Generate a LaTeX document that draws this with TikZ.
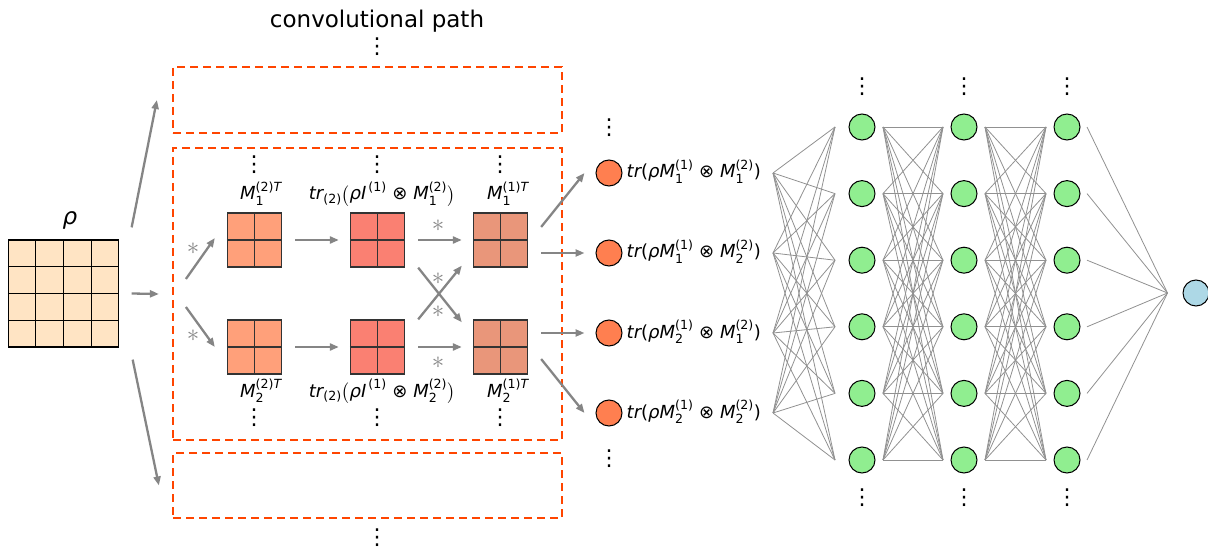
\documentclass[tikz,border=0pt]{standalone}
\usepackage{fontspec}
\usepackage{amsmath}
\setmainfont{DejaVu Sans}
\usetikzlibrary{arrows.meta,calc}
\definecolor{pathred}{HTML}{FF4500}
\definecolor{rhocol}{HTML}{FFE4C4}
\definecolor{sqa}{HTML}{FFA07A}
\definecolor{sqb}{HTML}{FA8072}
\definecolor{sqc}{HTML}{E9967A}
\definecolor{obscol}{HTML}{FF7F50}
\definecolor{hidcol}{HTML}{90EE90}
\definecolor{outcol}{HTML}{ADD8E6}
\definecolor{arrgray}{HTML}{858585}
\newcommand{\vdts}{⋮}
\newcommand{\Mt}[2]{$\textit{M}_{\text{#1}}^{\text{(#2)}\textit{T}}$}
\newcommand{\trp}[1]{$\textit{tr}_{\text{(2)}}\bigl(\textit{ρI}^{\,\text{(1)}}\text{ ⊗ }\textit{M}_{\text{#1}}^{\text{(2)}}\bigr)$}
\newcommand{\trr}[4]{$\textit{tr}\text{(}\textit{ρM}_{\text{#1}}^{\text{(#2)}}\text{ ⊗ }\textit{M}_{\text{#3}}^{\text{(#4)}}\text{)}$}
\begin{document}
\begin{tikzpicture}[x=1pt,y=-1pt,
  arr/.style={draw=arrgray,line width=2.3pt,-{Triangle[length=9pt,width=7pt]}},
  pathbox/.style={draw=pathred,line width=2.2pt,dash pattern=on 8pt off 5pt,minimum width=389pt},
  sqr/.style={draw=black!80,line width=1.3pt,minimum size=54pt},
  sqline/.style={draw=black!80,line width=1.3pt},
  neuron/.style={circle,draw=black,line width=1pt,minimum size=26pt},
  wire/.style={draw=arrgray!90,line width=0.8pt},
  dts/.style={font=\fontsize{22}{22}\selectfont},
  star/.style={text=arrgray,font=\fontsize{32}{32}\selectfont},
  lab/.style={font=\fontsize{18}{20}\selectfont,anchor=base},
  olab/.style={font=\fontsize{18}{20}\selectfont,anchor=base west}]
\tikzstyle{every node}+=[inner sep=0pt]
\useasboundingbox (0,0) rectangle (1208,548);

% title and the three paths
\node[font=\fontsize{23}{23}\selectfont,anchor=base] (title) at (377,28) {convolutional path};
\node[dts] (dtop) at (377,47) {\vdts};
\node[pathbox,minimum height=66pt] (cbtop) at (367.5,100) {};
\node[pathbox,minimum height=292pt] (cbmid) at (367.5,294) {};
\node[pathbox,minimum height=65pt] (cbbot) at (367.5,485.5) {};
\node[dts] (dbot) at (377,538) {\vdts};

% density matrix
\node[anchor=base,font=\fontsize{23}{23}\selectfont] (rholab) at (70,225) {\textit{ρ}};
\node[draw=black,line width=1.3pt,fill=rhocol,minimum width=110pt,minimum height=107pt] (rho) at (63.5,293.5) {};
\foreach \f in {0.25,0.5,0.75} {
  \draw[line width=1.3pt] ($(rho.north west)!\f!(rho.north east)$) -- ($(rho.south west)!\f!(rho.south east)$);
  \draw[line width=1.3pt] ($(rho.north west)!\f!(rho.south west)$) -- ($(rho.north east)!\f!(rho.south east)$);
}
\draw[arr] ([xshift=12.5,yshift=12]rho.north east) -- ([xshift=-15]cbtop.west);
\draw[arr] ([xshift=12.5]rho.east) -- ([xshift=-13]cbmid.west);
\draw[arr] ([xshift=13.5,yshift=-12]rho.south east) -- ([xshift=-13]cbbot.west);

% kernels and partial traces
\node[sqr,fill=sqa] (ka) at (254.5,240) {};
\node[sqr,fill=sqb] (pa) at (377.5,240) {};
\node[sqr,fill=sqc] (ra) at (500.5,240) {};
\node[sqr,fill=sqa] (kb) at (254.5,347) {};
\node[sqr,fill=sqb] (pb) at (377.5,347) {};
\node[sqr,fill=sqc] (rb) at (500.5,347) {};
\foreach \n in {ka,pa,ra,kb,pb,rb}
  \draw[sqline] (\n.north) -- (\n.south) (\n.west) -- (\n.east);

\node[lab] (lka) at (261,200) {\Mt{1}{2}};
\node[lab] (lpa) at (382,200) {\trp{1}};
\node[lab] (lra) at (508,200) {\Mt{1}{1}};
\node[lab] (lkb) at (261,397) {\Mt{2}{2}};
\node[lab] (lpb) at (382,397) {\trp{2}};
\node[lab] (lrb) at (508,397) {\Mt{2}{1}};
\foreach \x in {254,377,500} {
  \node[dts] at (\x,165) {\vdts};
  \node[dts] at (\x,418) {\vdts};
}

\draw[arr] ([xshift=14,yshift=15]cbmid.west) -- ([xshift=-12,yshift=2]ka.west);
\draw[arr] ([xshift=14,yshift=-13]cbmid.west) -- ([xshift=-12]kb.west);
\node[star] (s1) at (193,249) {$\ast$};
\node[star] (s2) at (193,336) {$\ast$};
\draw[arr,shorten <=13pt,shorten >=11pt] (ka) -- (pa);
\draw[arr,shorten <=13pt,shorten >=11pt] (kb) -- (pb);
\draw[arr,shorten <=13pt,shorten >=11pt] (pa) -- (ra);
\draw[arr,shorten <=13pt,shorten >=11pt] (pb) -- (rb);
\draw[arr] ([xshift=13]pa.south east) -- ([xshift=-11,yshift=-3]rb.north west);
\draw[arr] ([xshift=13]pb.north east) -- ([xshift=-11,yshift=2]ra.south west);
\node[star] (s3) at (438,226) {$\ast$};
\node[star] (s4) at (438,279) {$\ast$};
\node[star] (s5) at (438,312) {$\ast$};
\node[star] (s6) at (438,363) {$\ast$};

% measured observables
\foreach \k/\y in {1/173,2/253,3/333,4/413}
  \node[neuron,fill=obscol] (o\k) at (609,\y) {};
\node[olab] (t1) at ([xshift=4,yshift=-5]o1.east) {\trr{1}{1}{1}{2}};
\node[olab] (t2) at ([xshift=4,yshift=-5]o2.east) {\trr{1}{1}{2}{2}};
\node[olab] (t3) at ([xshift=4,yshift=-5]o3.east) {\trr{2}{1}{1}{2}};
\node[olab] (t4) at ([xshift=4,yshift=-5]o4.east) {\trr{2}{1}{2}{2}};
\node[dts] (do1) at (609,128) {\vdts};
\node[dts] (do2) at (609,459) {\vdts};
\draw[arr] ([xshift=13,yshift=13]ra.east) -- ([xshift=-11]o1.west);
\draw[arr] ([xshift=13,yshift=-13]ra.east) -- ([xshift=-11]o2.west);
\draw[arr] ([xshift=13,yshift=14]rb.east) -- ([xshift=-11]o3.west);
\draw[arr] ([xshift=13,yshift=-12]rb.east) -- ([xshift=-11]o4.west);

% dense layers
\foreach \c/\x in {1/862,2/964,3/1067} {
  \foreach \r in {1,...,6}
    \node[neuron,fill=hidcol] (h\c-\r) at (\x,{127+66.6*(\r-1)}) {};
  \node[dts] at (\x,87) {\vdts};
  \node[dts] at (\x,498) {\vdts};
}
\node[neuron,fill=outcol] (out) at (1196,293) {};
\coordinate (fan) at (773,0);
\coordinate (sink) at ([xshift=-15]out.west);
\foreach \i in {1,...,4}
  \foreach \r in {1,...,6}
    \draw[wire] (o\i -| fan) -- ([xshift=-13.5]h1-\r.west);
\foreach \r in {1,...,6}
  \foreach \s in {1,...,6} {
    \draw[wire] ([xshift=7.5]h1-\r.east) -- ([xshift=-7.5]h2-\s.west);
    \draw[wire] ([xshift=7.5]h2-\r.east) -- ([xshift=-7.5]h3-\s.west);
  }
\foreach \r in {1,...,6}
  \draw[wire] ([xshift=6.5]h3-\r.east) -- (sink);
\end{tikzpicture}
\end{document}
